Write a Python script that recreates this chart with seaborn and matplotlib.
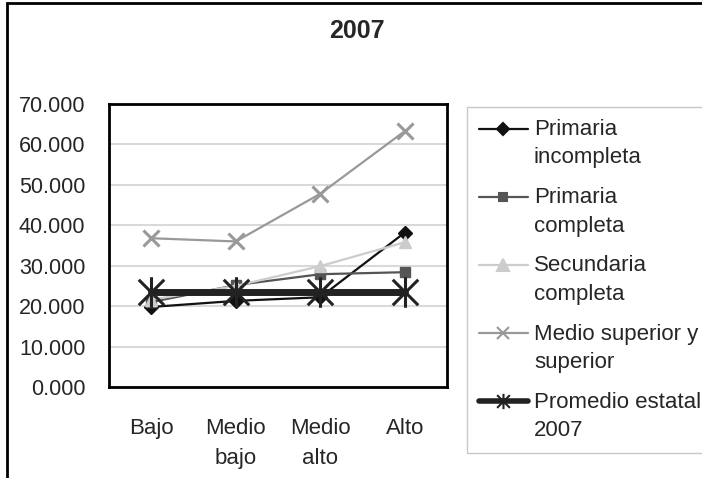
import numpy as np
import pandas as pd
import matplotlib
matplotlib.use('Agg')
import matplotlib.pyplot as plt
import matplotlib.ticker as mticker
from matplotlib.lines import Line2D
from matplotlib.legend_handler import HandlerLine2D
from matplotlib.patches import Rectangle
from matplotlib.path import Path
import seaborn as sns

# datos (miles)
niveles = ['Bajo', 'Medio\nbajo', 'Medio\nalto', 'Alto']
primaria_incompleta = [19.8, 21.3, 22.2, 38.2]
primaria_completa = [21.0, 25.2, 27.9, 28.4]
secundaria_completa = [21.6, 25.0, 29.9, 35.8]
medio_superior = [36.8, 36.0, 47.8, 63.3]
promedio_estatal = [23.6, 23.6, 23.6, 23.6]

series = ['Primaria\nincompleta', 'Primaria\ncompleta', 'Secundaria\ncompleta',
          'Medio superior y\nsuperior', 'Promedio estatal\n2007']
valores = [primaria_incompleta, primaria_completa, secundaria_completa,
           medio_superior, promedio_estatal]

sns.set_style('white')
plt.rcParams['font.family'] = ['Liberation Sans', 'DejaVu Sans']
plt.rcParams['font.size'] = 16

# asterisco tipo Excel: X mas linea vertical
asterisco = Path([(-1, -1), (1, 1), (-1, 1), (1, -1), (0, -1.2), (0, 1.2)],
                 [Path.MOVETO, Path.LINETO, Path.MOVETO, Path.LINETO, Path.MOVETO, Path.LINETO])

# estilo de cada serie: color, marcador, tam. marcador, grosor, tam. marcador leyenda
estilos = {
    series[0]: ('#111111', 'D', 7, 1.6, 6),
    series[1]: ('#555555', 's', 7, 1.6, 6),
    series[2]: ('#cccccc', '^', 9, 1.6, 8),
    series[3]: ('#999999', 'x', 11, 1.6, 8),
    series[4]: ('#222222', asterisco, 22, 5.0, 11),
}

filas = []
for nombre, vals in zip(series, valores):
    for i, v in enumerate(vals):
        filas.append({'serie': nombre, 'x': i, 'valor': v})
df = pd.DataFrame(filas)

fig = plt.figure(figsize=(7.02, 4.78), dpi=100)
ax = fig.add_axes([0.1553, 0.1904, 0.4815, 0.592])

for nombre in series:
    color, marca, ms, lw, _ = estilos[nombre]
    sub = df[df.serie == nombre]
    sns.lineplot(data=sub, x='x', y='valor', ax=ax, color=color, marker=marca,
                 markersize=ms, linewidth=lw, markeredgecolor=color,
                 markeredgewidth=2.2 if nombre in (series[3], series[4]) else 1,
                 legend=False)

ax.set_xlim(-0.5, 3.5)
ax.set_ylim(0, 70)
ax.set_yticks(np.arange(0, 71, 10))
ax.yaxis.set_major_formatter(mticker.FuncFormatter(lambda v, p: '%.3f' % v))
ax.set_xticks(range(4))
ax.set_xticklabels(niveles, linespacing=1.6)
ax.set_xticks([-0.5, 0.5, 1.5, 2.5, 3.5], minor=True)
ax.tick_params(axis='x', which='major', length=0, pad=22)
ax.tick_params(axis='x', which='minor', length=5, color='#aaaaaa', width=1, direction='out')
ax.tick_params(axis='y', length=5, color='#aaaaaa', width=1, direction='out', pad=12,
               labelsize=15.5)
ax.set_xlabel('')
ax.set_ylabel('')
ax.grid(axis='y', color='#d9d9d9', linewidth=1.5)
ax.set_axisbelow(True)
for s in ax.spines.values():
    s.set_color('black')
    s.set_linewidth(2)

fig.text(0.509, 0.935, '2007', ha='center', va='center', fontsize=18, fontweight='bold')

# marco exterior del grafico
fig.patches.append(Rectangle((7 / 702, -0.05), 1.0, 1.05 - 3 / 478, transform=fig.transFigure,
                             fill=False, edgecolor='black', linewidth=2))


class HandlerPrimeraLinea(HandlerLine2D):
    def create_artists(self, legend, orig_handle, xdescent, ydescent, width, height,
                       fontsize, trans):
        artistas = super().create_artists(legend, orig_handle, xdescent, ydescent,
                                          width, height, fontsize, trans)
        for a in artistas:
            a.set_ydata(np.asarray(a.get_ydata()) + fontsize * 0.7)
        return artistas


manejadores = []
for nombre in series:
    color, marca, ms, lw, msl = estilos[nombre]
    manejadores.append(Line2D([], [], color=color, marker=marca, markersize=msl,
                              linewidth=lw if lw < 3 else 4, markeredgecolor=color,
                              markeredgewidth=1.5))

leg = fig.legend(manejadores, series, loc='upper left', bbox_to_anchor=(0.665, 0.776),
                 frameon=True, fancybox=False, edgecolor='#bbbbbb', borderaxespad=0,
                 handlelength=2.2, handletextpad=0.27, borderpad=0.55, labelspacing=0.85,
                 fontsize=16, handler_map={Line2D: HandlerPrimeraLinea(numpoints=1)})
leg.get_frame().set_linewidth(1)
for t in leg.get_texts():
    t.set_linespacing(1.45)

fig.savefig('out.png', dpi=100)
